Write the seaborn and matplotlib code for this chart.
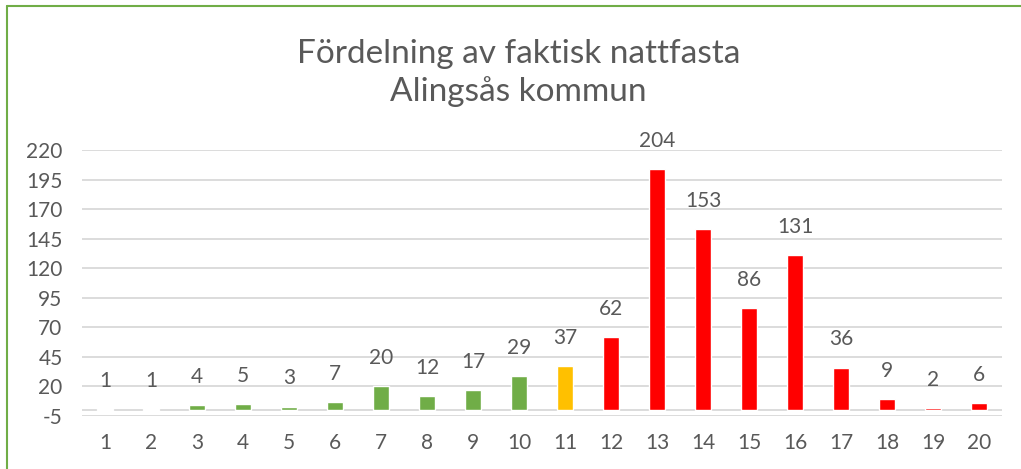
import matplotlib.pyplot as plt
import matplotlib.lines as mlines
import seaborn as sns

# Data
CATEGORIES = [str(i) for i in range(1, 21)]
VALUES = [1, 1, 4, 5, 3, 7, 20, 12, 17, 29, 37, 62, 204, 153, 86, 131, 36, 9, 2, 6]
BAR_COLORS = (['#D9EACB'] * 2 + ['#70AD47'] * 8 + ['#FFC000'] + ['#FF0000'] * 9)
Y_TICKS = [-5, 20, 45, 70, 95, 120, 145, 170, 195, 220]
TITLE = 'Fördelning av faktisk nattfasta\nAlingsås kommun'

TEXT_COLOR = '#595959'
GRID_COLOR = '#D9D9D9'
BORDER_COLOR = '#70AD47'

sns.set_theme(style='white')
plt.rcParams['font.family'] = ['Lato', 'DejaVu Sans']
plt.rcParams['axes.unicode_minus'] = False

fig = plt.figure(figsize=(10.21, 4.69), dpi=100)
ax = fig.add_axes([82 / 1021, 1 - 416 / 469, 920 / 1021, 266 / 469])

sns.barplot(x=CATEGORIES, y=VALUES, hue=CATEGORIES, palette=BAR_COLORS,
            legend=False, width=0.33, saturation=1, ax=ax, zorder=3)

for container in ax.containers:
    ax.bar_label(container, padding=13, fontsize=15, color=TEXT_COLOR)

ax.set_ylim(-5, 220)
ax.set_yticks(Y_TICKS)
ax.set_xlim(-0.5, len(CATEGORIES) - 0.5)
ax.grid(axis='y', color=GRID_COLOR, linewidth=1.3, zorder=0)
ax.axhline(0, color=GRID_COLOR, linewidth=1.3, zorder=2)
for spine in ax.spines.values():
    spine.set_visible(False)
ax.tick_params(axis='both', length=0, labelsize=15, colors=TEXT_COLOR)
ax.tick_params(axis='x', pad=12)
ax.tick_params(axis='y', pad=14)
ax.set_xlabel('')
ax.set_ylabel('')

fig.text(0.508, 1 - 73 / 469, TITLE, ha='center', va='center',
         fontsize=24, color=TEXT_COLOR, linespacing=1.25)

# green chart-area border (left and top visible)
fig.add_artist(mlines.Line2D([6.5 / 1021, 6.5 / 1021], [0, 1 - 6.5 / 469],
                             color=BORDER_COLOR, linewidth=1.5))
fig.add_artist(mlines.Line2D([6.5 / 1021, 1], [1 - 6.5 / 469, 1 - 6.5 / 469],
                             color=BORDER_COLOR, linewidth=1.5))

fig.savefig('out.png', dpi=100, facecolor='white')
